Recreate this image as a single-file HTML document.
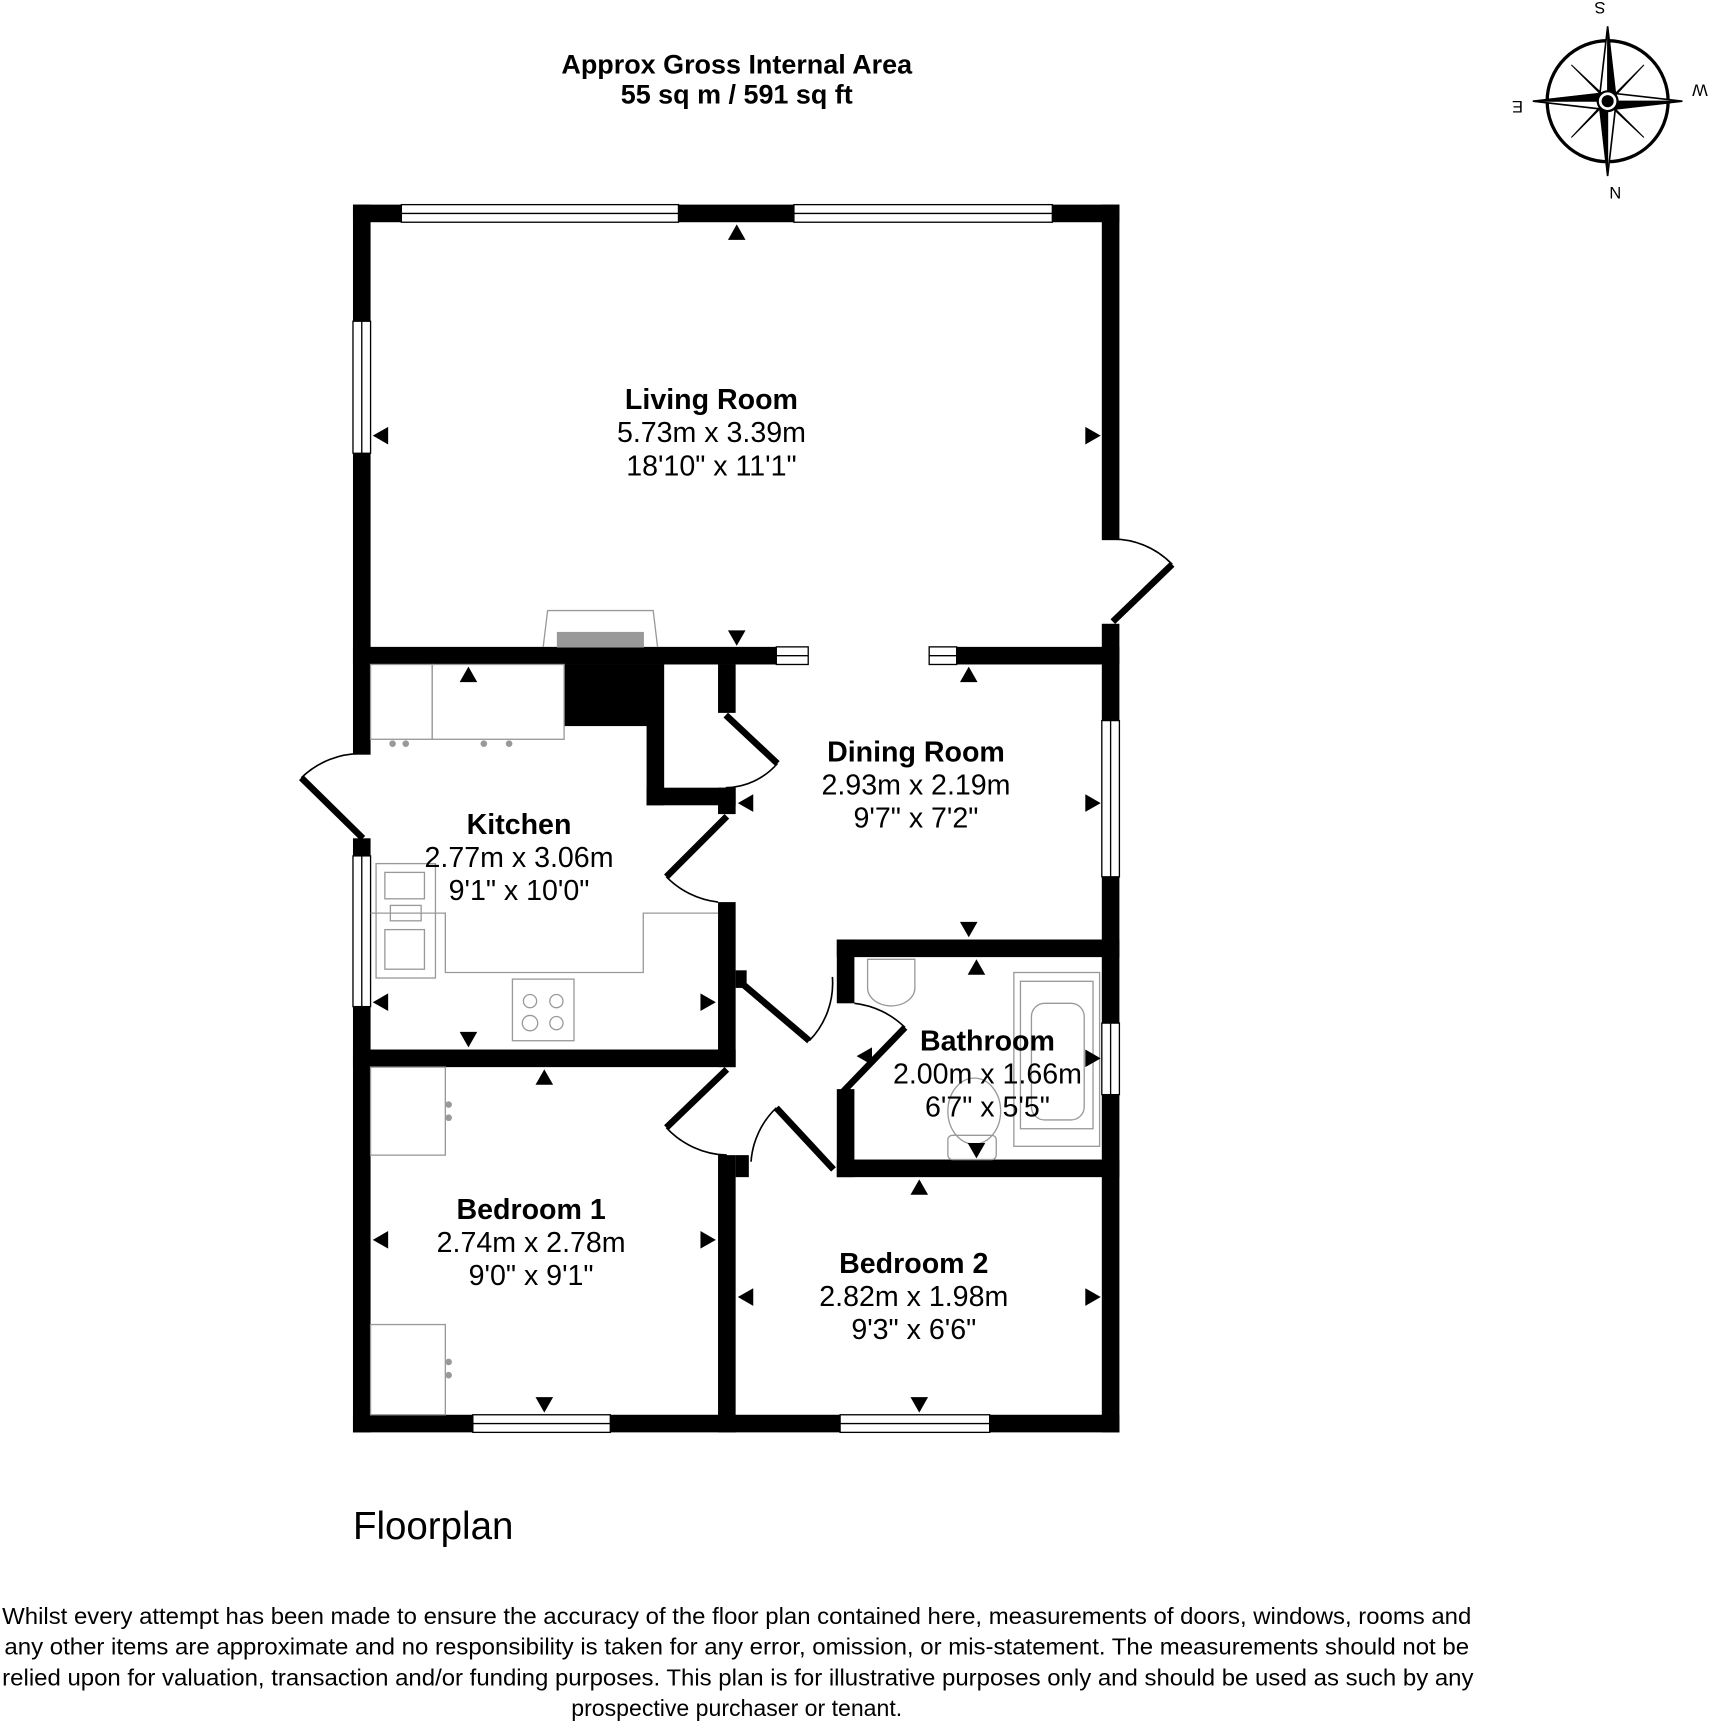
<!DOCTYPE html>
<html><head><meta charset="utf-8"><style>
html,body{margin:0;padding:0;background:#fff;}
svg{display:block;}
text{font-family:"Liberation Sans",Arial,sans-serif;}
</style></head><body>
<svg width="1711" height="1725" viewBox="0 0 1556 1568" preserveAspectRatio="none" xmlns="http://www.w3.org/2000/svg">
<rect width="1556" height="1568" fill="#fff"/>
<text x="670" y="67" font-size="24.5" font-weight="bold" text-anchor="middle">Approx Gross Internal Area</text>
<text x="670" y="94" font-size="24.5" font-weight="bold" text-anchor="middle">55 sq m / 591 sq ft</text>

<g transform="translate(1462,92)" stroke="#000" fill="none">
<circle r="55" stroke-width="3"/>
<path d="M0,-68 L7,-7 L68,0 L7,7 L0,68 L-7,7 L-68,0 L-7,-7Z" fill="#fff" stroke-width="1.5"/>
<path d="M0,-68 L7,-7 L0,0Z M68,0 L7,7 L0,0Z M0,68 L-7,7 L0,0Z M-68,0 L-7,-7 L0,0Z" fill="#000"/>
<path d="M33,-33 L5,-3 L0,0Z M33,33 L3,5 L0,0Z M-33,33 L-5,3 L0,0Z M-33,-33 L-3,-5 L0,0Z" fill="#000"/>
<circle r="9" fill="#fff" stroke-width="2"/><circle r="5" fill="#000"/>
</g>
<text x="1455" y="12" font-size="15" text-anchor="middle" transform="rotate(180 1455 7)">S</text>
<text x="1469" y="180" font-size="15" text-anchor="middle" transform="rotate(180 1469 175)">N</text>
<text x="1546" y="87" font-size="15" text-anchor="middle" transform="rotate(180 1546 82)">W</text>
<text x="1380" y="102" font-size="15" text-anchor="middle" transform="rotate(180 1380 97)">E</text>

<g fill="#000">
<rect x="321" y="186" width="697" height="16"/>
<rect x="321" y="186" width="16" height="500"/>
<rect x="321" y="762" width="16" height="540"/>
<rect x="1002" y="186" width="16" height="305"/>
<rect x="1002" y="567" width="16" height="735"/>
<rect x="321" y="1286" width="697" height="16"/>
<rect x="321" y="588" width="385" height="16"/>
<rect x="870" y="588" width="148" height="16"/>
<rect x="513" y="604" width="90" height="56"/>
<rect x="588" y="604" width="16" height="128"/>
<rect x="588" y="716" width="81" height="16"/>
<rect x="653" y="604" width="16" height="44"/>
<rect x="653" y="716" width="16" height="24"/>
<rect x="653" y="820" width="16" height="150"/>
<rect x="321" y="954" width="348" height="16"/>
<rect x="653" y="1050" width="16" height="252"/>
<rect x="669" y="882" width="10" height="16"/>
<rect x="669" y="1050" width="12" height="20"/>
<rect x="761" y="854" width="257" height="16"/>
<rect x="761" y="854" width="16" height="58"/>
<rect x="761" y="990" width="16" height="80"/>
<rect x="761" y="1054" width="257" height="16"/>
</g>

<g fill="#fff" stroke="#000" stroke-width="1.2">
<rect x="365" y="186" width="252" height="16"/><line x1="365" y1="194" x2="617" y2="194"/>
<rect x="722" y="186" width="235" height="16"/><line x1="722" y1="194" x2="957" y2="194"/>
<rect x="321" y="292" width="16" height="120"/><line x1="329" y1="292" x2="329" y2="412"/>
<rect x="321" y="778" width="16" height="137"/><line x1="329" y1="778" x2="329" y2="915"/>
<rect x="1002" y="655" width="16" height="142"/><line x1="1010" y1="655" x2="1010" y2="797"/>
<rect x="1002" y="930" width="16" height="65"/><line x1="1010" y1="930" x2="1010" y2="995"/>
<rect x="430" y="1286" width="125" height="16"/><line x1="430" y1="1294" x2="555" y2="1294"/>
<rect x="764" y="1286" width="136" height="16"/><line x1="764" y1="1294" x2="900" y2="1294"/>
<rect x="706" y="588" width="29" height="16"/><line x1="706" y1="596" x2="735" y2="596"/>
<rect x="845" y="588" width="25" height="16"/><line x1="845" y1="596" x2="870" y2="596"/>
</g>

<g stroke="#000" fill="none">
<g stroke-width="6">
<line x1="1012" y1="565" x2="1066" y2="513"/>
<line x1="330" y1="762" x2="274" y2="707"/>
<line x1="660" y1="650" x2="707" y2="694"/>
<line x1="661" y1="742" x2="606" y2="797"/>
<line x1="676" y1="895" x2="736" y2="946"/>
<line x1="767" y1="992" x2="823" y2="934"/>
<line x1="661" y1="972" x2="606" y2="1025"/>
<line x1="758" y1="1063" x2="706" y2="1007"/>
</g>
<g stroke-width="1.5">
<path d="M1066,513 A75,75 0 0 0 1010,490"/>
<path d="M274,707 A78,78 0 0 1 330,685"/>
<path d="M707,694 A64,64 0 0 1 660,716"/>
<path d="M606,797 A78,78 0 0 0 653,820"/>
<path d="M736,946 A75,75 0 0 0 757,888"/>
<path d="M823,934 A78,78 0 0 0 777,912"/>
<path d="M606,1025 A78,78 0 0 0 661,1050"/>
<path d="M706,1007 A75,75 0 0 0 683,1056"/>
</g>
</g>

<g stroke="#999" fill="none" stroke-width="1.2">
<path d="M494,588 L498,555 L594,555 L598,588"/>
<rect x="507" y="575" width="78" height="13" fill="#999"/>
<rect x="337" y="604" width="56" height="68"/><rect x="393" y="604" width="120" height="68"/>
<path d="M337,830 L405,830 L405,884 L585,884 L585,830 L653,830"/>
<rect x="342" y="785" width="54" height="104"/>
<rect x="350" y="793" width="36" height="24"/><rect x="355" y="823" width="28" height="14"/><rect x="350" y="845" width="36" height="36"/>
<rect x="466" y="890" width="56" height="56"/>
<circle cx="482" cy="910" r="6"/><circle cx="506" cy="910" r="6"/><circle cx="482" cy="930" r="7"/><circle cx="506" cy="930" r="6"/>
<rect x="337" y="970" width="68" height="80"/>
<rect x="337" y="1204" width="68" height="82"/>
<path d="M789,872 L832,872 L832,898 A21,16 0 0 1 789,898Z"/>
<rect x="922" y="884" width="78" height="158"/>
<rect x="928" y="892" width="66" height="134"/>
<rect x="938" y="912" width="48" height="106" rx="12"/>
<ellipse cx="886" cy="1010" rx="24" ry="30"/>
<rect x="862" y="1032" width="44" height="22" rx="4"/>
</g>
<g fill="#999"><circle cx="357" cy="676" r="3"/><circle cx="369" cy="676" r="3"/><circle cx="440" cy="676" r="3"/><circle cx="463" cy="676" r="3"/>
<circle cx="408" cy="1004" r="3"/><circle cx="408" cy="1016" r="3"/><circle cx="408" cy="1238" r="3"/><circle cx="408" cy="1250" r="3"/></g>

<g fill="#000">
<path d="M662,218 L678,218 L670,204Z"/>
<path d="M662,573 L678,573 L670,587Z"/>
<path d="M353,388 L353,404 L339,396Z"/>
<path d="M987,388 L987,404 L1001,396Z"/>
<path d="M418,620 L434,620 L426,606Z"/>
<path d="M418,938 L434,938 L426,952Z"/>
<path d="M353,903 L353,919 L339,911Z"/>
<path d="M637,903 L637,919 L651,911Z"/>
<path d="M873,620 L889,620 L881,606Z"/>
<path d="M873,838 L889,838 L881,852Z"/>
<path d="M685,722 L685,738 L671,730Z"/>
<path d="M987,722 L987,738 L1001,730Z"/>
<path d="M880,886 L896,886 L888,872Z"/>
<path d="M880,1039 L896,1039 L888,1053Z"/>
<path d="M793,952 L793,968 L779,960Z"/>
<path d="M987,954 L987,970 L1001,962Z"/>
<path d="M487,986 L503,986 L495,972Z"/>
<path d="M487,1270 L503,1270 L495,1284Z"/>
<path d="M353,1119 L353,1135 L339,1127Z"/>
<path d="M637,1119 L637,1135 L651,1127Z"/>
<path d="M828,1086 L844,1086 L836,1072Z"/>
<path d="M828,1270 L844,1270 L836,1284Z"/>
<path d="M685,1171 L685,1187 L671,1179Z"/>
<path d="M987,1171 L987,1187 L1001,1179Z"/>
</g>

<g text-anchor="middle" font-size="26">
<text x="647" y="372" font-weight="bold">Living Room</text>
<text x="647" y="402">5.73m x 3.39m</text>
<text x="647" y="432">18'10" x 11'1"</text>
<text x="833" y="692" font-weight="bold">Dining Room</text>
<text x="833" y="722">2.93m x 2.19m</text>
<text x="833" y="752">9'7" x 7'2"</text>
<text x="472" y="758" font-weight="bold">Kitchen</text>
<text x="472" y="788">2.77m x 3.06m</text>
<text x="472" y="818">9'1" x 10'0"</text>
<text x="898" y="955" font-weight="bold">Bathroom</text>
<text x="898" y="985">2.00m x 1.66m</text>
<text x="898" y="1015">6'7" x 5'5"</text>
<text x="483" y="1108" font-weight="bold">Bedroom 1</text>
<text x="483" y="1138">2.74m x 2.78m</text>
<text x="483" y="1168">9'0" x 9'1"</text>
<text x="831" y="1157" font-weight="bold">Bedroom 2</text>
<text x="831" y="1187">2.82m x 1.98m</text>
<text x="831" y="1217">9'3" x 6'6"</text>
</g>
<text x="321" y="1399" font-size="35">Floorplan</text>
<g font-size="21">
<text x="2" y="1476" textLength="1336" lengthAdjust="spacingAndGlyphs">Whilst every attempt has been made to ensure the accuracy of the floor plan contained here, measurements of doors, windows, rooms and</text>
<text x="4" y="1504" textLength="1332" lengthAdjust="spacingAndGlyphs">any other items are approximate and no responsibility is taken for any error, omission, or mis-statement. The measurements should not be</text>
<text x="2" y="1532" textLength="1338" lengthAdjust="spacingAndGlyphs">relied upon for valuation, transaction and/or funding purposes. This plan is for illustrative purposes only and should be used as such by any</text>
<text x="670" y="1560" text-anchor="middle">prospective purchaser or tenant.</text>
</g>
</svg>
</body></html>
